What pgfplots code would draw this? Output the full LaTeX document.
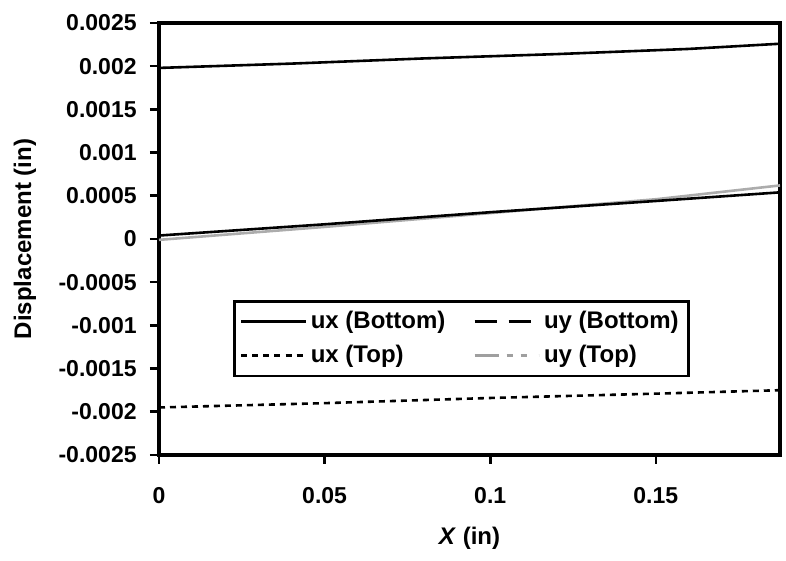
\documentclass[border=0pt]{standalone}
\usepackage{fontspec}
\setmainfont{Liberation Sans}
\usepackage{pgfplots}
\pgfplotsset{compat=1.18}

\begin{document}
\begin{tikzpicture}
\useasboundingbox (-79.5pt,-53pt) rectangle (313.5pt,227.5pt);
\begin{axis}[
    at={(0,0)}, anchor=south west,
    scale only axis,
    width=310.5pt, height=216pt,
    xmin=0, xmax=0.1875,
    ymin=-0.0025, ymax=0.0025,
    xtick={0,0.05,0.1,0.15},
    xticklabels={0,0.05,0.1,0.15},
    ytick={-0.0025,-0.002,-0.0015,-0.001,-0.0005,0,0.0005,0.001,0.0015,0.002,0.0025},
    yticklabels={-0.0025,-0.002,-0.0015,-0.001,-0.0005,0,0.0005,0.001,0.0015,0.002,0.0025},
    scaled y ticks=false,
    scaled x ticks=false,
    xtick pos=bottom, ytick pos=left,
    tick align=outside,
    major tick length=4.5pt,
    tick style={black, line width=1.3pt},
    axis line style={line width=1.6pt},
    ticklabel style={font=\fontsize{11.5}{13}\selectfont\bfseries, inner sep=0pt},
    xticklabel style={anchor=north, yshift=-11.5pt},
    yticklabel style={anchor=east, xshift=-6.5pt},
    xlabel={\textbf{\textit{X} (in)}},
    ylabel={\textbf{Displacement (in)}},
    label style={font=\fontsize{12}{14}\selectfont},
    xlabel style={at={(axis description cs:0.5,-0.2083)}, anchor=base},
    ylabel style={at={(axis description cs:-0.2158,0.5)}, anchor=center, rotate=0},
    legend columns=2,
    legend cell align=left,
    legend style={
        at={(0.119,0.359)}, anchor=north west,
        draw=black, line width=1.3pt,
        font=\fontsize{12}{14}\selectfont\bfseries,
        inner xsep=3pt, inner ysep=3pt,
        /tikz/every even column/.append style={column sep=12pt},
        row sep=3pt
    },
    legend image code/.code={
        \draw[#1] (0pt,0pt) -- (32pt,0pt);
    },
]
% ux (Bottom)
\addplot[black, line width=1.3pt] coordinates {
    (0,0.00198) (0.04,0.00203) (0.08,0.00209) (0.12,0.00214) (0.16,0.00220) (0.1875,0.00226)
};
\addlegendentry{ux (Bottom)}
% uy (Top), drawn first so the black line lies over it
\addplot[gray!65, line width=1.3pt, forget plot] coordinates {
    (0,-0.00001) (0.05,0.00014) (0.1,0.00030) (0.15,0.00046) (0.1875,0.00062)
};
% uy (Bottom)
\addplot[black, line width=1.3pt, forget plot] coordinates {
    (0,0.00004) (0.05,0.00017) (0.1,0.00031) (0.15,0.00044) (0.1875,0.00054)
};
\addlegendimage{black, line width=1.3pt, dash pattern=on 11pt off 6pt}
\addlegendentry{uy (Bottom)}
% ux (Top)
\addplot[black, line width=1.3pt, dash pattern=on 3pt off 2.5pt] coordinates {
    (0,-0.00195) (0.05,-0.00190) (0.1,-0.00184) (0.15,-0.00179) (0.1875,-0.00175)
};
\addlegendentry{ux (Top)}
\addlegendimage{gray!75, line width=1.3pt, dash pattern=on 12pt off 4pt on 3pt off 4pt on 3pt off 6pt}
\addlegendentry{uy (Top)}
\end{axis}
\end{tikzpicture}
\end{document}
